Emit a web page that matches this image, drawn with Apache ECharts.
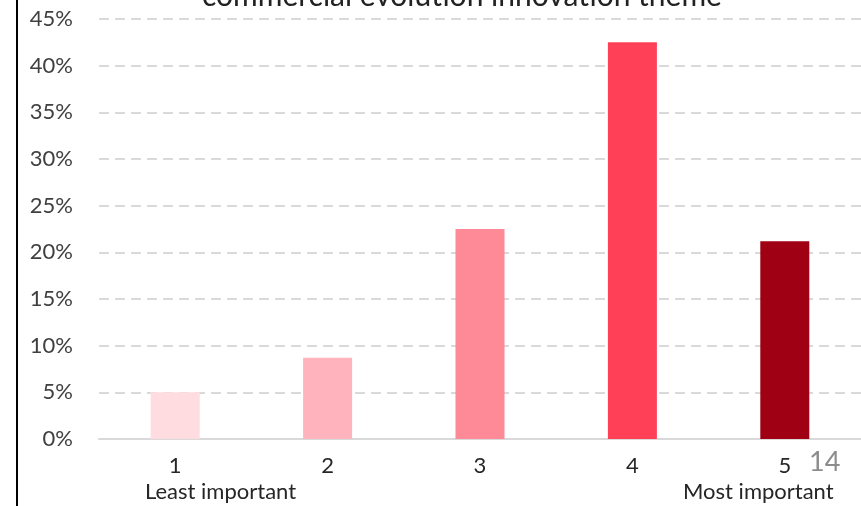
<!DOCTYPE html>
<html lang="en">
<head>
    <meta charset="UTF-8">
    <title>commercial evolution innovation theme</title>
    <script src="https://cdn.jsdelivr.net/npm/echarts@6/dist/echarts.min.js"></script>
    <style type="text/css">
        *{margin:0;padding:0;}
        html,body{background:#fff;}
        #main{width:861px;height:506px;}
    </style>
</head>
<body>
<div id="main"></div>
<script type="text/javascript">
    // 数据
    var categories = ['1', '2', '3', '4', '5'];
    var values = [5.0, 8.7, 22.5, 42.5, 21.2];
    var barColors = ['#ffdce0', '#ffb3bc', '#ff8a97', '#ff4057', '#a00014'];
    var yTicks = [0, 5, 10, 15, 20, 25, 30, 35, 40, 45];

    var FONT = 'Lato';
    var myChart = echarts.init(document.getElementById('main'));

    var option = {
        backgroundColor: '#ffffff',
        animation: false,
        title: {
            text: 'commercial evolution innovation theme',
            left: 197,
            top: -24,
            textStyle: {
                fontFamily: FONT,
                fontWeight: 'normal',
                fontSize: 30,
                color: '#222'
            }
        },
        grid: {
            left: 99,
            right: -1,
            top: 19,
            bottom: 67
        },
        xAxis: {
            type: 'category',
            data: categories,
            axisTick: {show: false},
            axisLine: {
                lineStyle: {color: '#d9d9d9', width: 2}
            },
            axisLabel: {
                margin: 16,
                fontFamily: FONT,
                fontSize: 22,
                color: '#262626'
            }
        },
        yAxis: {
            type: 'value',
            min: yTicks[0],
            max: yTicks[yTicks.length - 1],
            interval: 5,
            axisLine: {show: false},
            axisTick: {show: false},
            axisLabel: {
                margin: 26,
                fontFamily: FONT,
                fontSize: 22,
                color: '#404040',
                formatter: '{value}%'
            },
            splitLine: {
                lineStyle: {
                    color: '#d9d9d9',
                    width: 2,
                    type: [10, 6]
                }
            }
        },
        graphic: [
            {
                type: 'rect',
                shape: {x: 16, y: 0, width: 2, height: 506},
                style: {fill: '#000'}
            },
            {
                type: 'text',
                left: 145,
                top: 481,
                style: {text: 'Least important', font: '22px ' + FONT, fill: '#262626'}
            },
            {
                type: 'text',
                left: 683,
                top: 481,
                style: {text: 'Most important', font: '22px ' + FONT, fill: '#262626'}
            },
            {
                type: 'text',
                left: 809,
                top: 449,
                style: {text: '14', font: '27px ' + FONT, fill: '#8c8c8c'}
            }
        ],
        series: [{
            type: 'bar',
            barWidth: 49,
            data: values.map(function (v, i) {
                return {value: v, itemStyle: {color: barColors[i]}};
            })
        }]
    };

    myChart.setOption(option);
</script>
</body>
</html>
